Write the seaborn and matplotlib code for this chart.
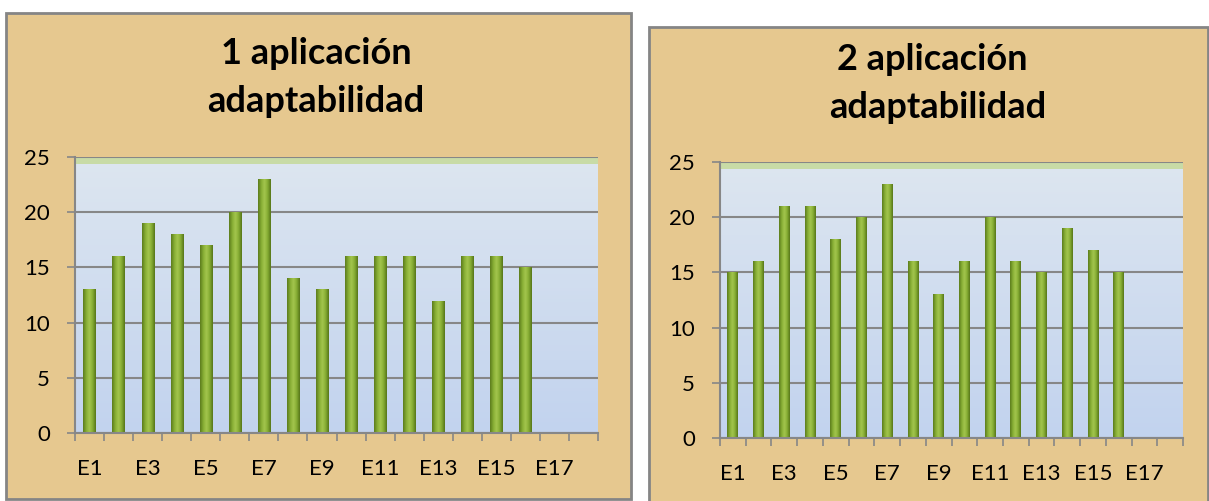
import numpy as np
import matplotlib
matplotlib.use("Agg")
import matplotlib.pyplot as plt
from matplotlib.patches import Rectangle
from matplotlib.colors import LinearSegmentedColormap
import seaborn as sns

# ---------------- data ----------------
categories = [f"E{i}" for i in range(1, 19)]
values_1 = [13, 16, 19, 18, 17, 20, 23, 14, 13, 16, 16, 16, 12, 16, 16, 15, np.nan, np.nan]
values_2 = [15, 16, 21, 21, 18, 20, 23, 16, 13, 16, 20, 16, 15, 19, 17, 15, np.nan, np.nan]
titles = [["1 aplicación", "adaptabilidad"], ["2 aplicación", "adaptabilidad"]]
y_ticks = [0, 5, 10, 15, 20, 25]
x_labels = [c if i % 2 == 0 else "" for i, c in enumerate(categories)]

# ---------------- style ----------------
sns.set_theme(style="white")
plt.rcParams['font.family'] = ['Lato', 'DejaVu Sans']

W, H = 1209, 501
fig = plt.figure(figsize=(W / 100, H / 100), dpi=100, facecolor="white")

BG = "#e6c88f"
FRAME = "#858585"
GRID = "#878787"

bar_cmap = LinearSegmentedColormap.from_list(
    "bar", ["#5a7a1c", "#86ad34", "#a4c64e", "#86ad34", "#557418"])
bg_cmap = LinearSegmentedColormap.from_list("bgc", ["#c2d3ee", "#dde6f0"])

def px_rect(x0, y0, x1, y1):
    return (x0 / W, 1 - y1 / H, (x1 - x0) / W, (y1 - y0) / H)

frames = [(6, 13, 631, 499), (649, 27, 1208, 503)]
axes_px = [(75, 157, 598, 433), (720, 162, 1183, 438)]
title_pos = [[(316, 53), (316, 102)], [(932, 60), (938, 108)]]
series = [values_1, values_2]

for fr in frames:
    x, y, w, h = px_rect(*fr)
    fig.patches.append(Rectangle((x, y), w, h, transform=fig.transFigure,
                                 facecolor=BG, edgecolor=FRAME, lw=2, zorder=-5))

for k in range(2):
    x, y, w, h = px_rect(*axes_px[k])
    ax = fig.add_axes([x, y, w, h])
    ax.set_facecolor("none")
    sns.barplot(x=categories, y=series[k], order=categories, width=0.42,
                color="#86ad34", ax=ax, zorder=3, edgecolor="none")

    # gradient fills for bars
    grad = np.linspace(0, 1, 64).reshape(1, -1)
    for p in list(ax.patches):
        hgt = p.get_height()
        if not np.isfinite(hgt) or hgt == 0:
            continue
        bx, bw = p.get_x(), p.get_width()
        im = ax.imshow(grad, extent=(bx, bx + bw, 0, hgt), aspect='auto',
                       cmap=bar_cmap, zorder=3.5, interpolation='bicubic')
        im.set_clip_path(p)
        p.set_facecolor("none")

    # plot area background gradient
    vgrad = np.linspace(0, 1, 128).reshape(-1, 1)
    ax.imshow(vgrad, extent=(-0.5, 17.5, 0, 25), origin='lower', aspect='auto',
              cmap=bg_cmap, zorder=0.2)
    ax.axhspan(24.4, 25, color="#c8dba6", zorder=0.3, lw=0)

    ax.set_xlim(-0.5, 17.5)
    ax.set_ylim(0, 25)
    ax.set_yticks(y_ticks)
    ax.set_xticks(range(len(categories)))
    ax.set_xticklabels(x_labels)
    ax.set_xticks(np.arange(-0.5, 18, 1), minor=True)
    ax.set_xlabel("")
    ax.set_ylabel("")

    ax.set_axisbelow(True)
    ax.yaxis.grid(True, color=GRID, lw=1.5)
    ax.xaxis.grid(False)
    for s in ["top", "right"]:
        ax.spines[s].set_visible(False)
    for s in ["left", "bottom"]:
        ax.spines[s].set_color(GRID)
        ax.spines[s].set_linewidth(1.5)
        ax.spines[s].set_zorder(4)

    ax.tick_params(axis='y', which='major', left=True, length=6, width=1.2,
                   color=GRID, pad=12, labelsize=16, labelcolor="black")
    ax.tick_params(axis='x', which='major', bottom=True, length=0, pad=19,
                   labelsize=16, labelcolor="black")
    ax.tick_params(axis='x', which='minor', bottom=True, length=6, width=1.2,
                   color=GRID)

    for line, (tx, ty) in zip(titles[k], title_pos[k]):
        fig.text(tx / W, 1 - ty / H, line, ha='center', va='center',
                 fontsize=26, fontweight='bold', color='black')

fig.savefig("out.png", dpi=100, facecolor="white")
